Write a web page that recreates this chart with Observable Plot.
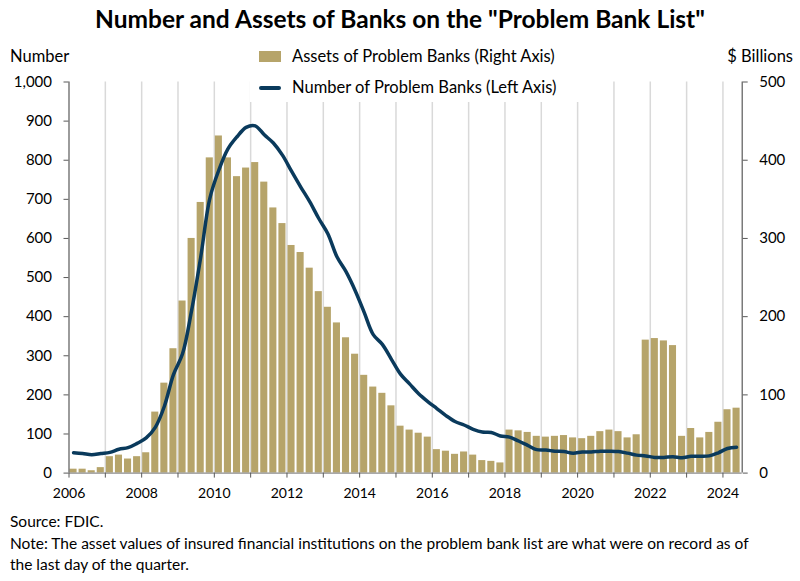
<!DOCTYPE html>
<html>
<head>
<meta charset="utf-8">
<script src="https://cdn.jsdelivr.net/npm/d3@7"></script>
<script src="https://cdn.jsdelivr.net/npm/@observablehq/plot@0.6"></script>
<style>
  html, body { margin: 0; padding: 0; background: #fff; }
  #wrap { position: relative; width: 800px; height: 581px; font-family: Lato, "Open Sans", sans-serif; color: #000; overflow: hidden; }
  #chart { position: absolute; left: 0; top: 0; }
  .abs { position: absolute; white-space: nowrap; line-height: 1; }
  #title { left: 0; width: 800px; top: 7px; text-align: center; font-weight: 700; font-size: 24.5px; }
  #ylab { left: 10px; top: 48px; font-size: 16.5px; }
  #y2lab { right: 7px; top: 48px; font-size: 16.5px; }
  #legend { left: 250px; top: 42px; width: 335px; height: 60px; background: #fff; }
  .lg { position: absolute; left: 42px; font-size: 16.5px; }
  #sw1 { position: absolute; left: 9px; top: 9px; width: 22px; height: 11px; background: #B6A46A; }
  #sw2 { position: absolute; left: 9px; top: 44px; width: 22px; height: 3.5px; background: #0A3A5C; border-radius: 2px; }
  #src { left: 10px; top: 514px; font-size: 15.5px; }
  #note1 { left: 10px; top: 536px; font-size: 15.5px; }
  #note2 { left: 10px; top: 557px; font-size: 15.5px; }
</style>
</head>
<body>
<div id="wrap">
  <div id="chart"></div>
  <div id="title" class="abs">Number and Assets of Banks on the "Problem Bank List"</div>
  <div id="ylab" class="abs">Number</div>
  <div id="y2lab" class="abs">$ Billions</div>
  <div id="legend" class="abs">
    <div id="sw1"></div>
    <div class="lg" style="top:6px">Assets of Problem Banks (Right Axis)</div>
    <div id="sw2"></div>
    <div class="lg" style="top:37px">Number of Problem Banks (Left Axis)</div>
  </div>
  <div id="src" class="abs">Source: FDIC.</div>
  <div id="note1" class="abs">Note: The asset values of insured financial institutions on the problem bank list are what were on record as of</div>
  <div id="note2" class="abs">the last day of the quarter.</div>
</div>
<script>
// Quarters (categories)
const quarters = [
  "2006Q1","2006Q2","2006Q3","2006Q4",
  "2007Q1","2007Q2","2007Q3","2007Q4",
  "2008Q1","2008Q2","2008Q3","2008Q4",
  "2009Q1","2009Q2","2009Q3","2009Q4",
  "2010Q1","2010Q2","2010Q3","2010Q4",
  "2011Q1","2011Q2","2011Q3","2011Q4",
  "2012Q1","2012Q2","2012Q3","2012Q4",
  "2013Q1","2013Q2","2013Q3","2013Q4",
  "2014Q1","2014Q2","2014Q3","2014Q4",
  "2015Q1","2015Q2","2015Q3","2015Q4",
  "2016Q1","2016Q2","2016Q3","2016Q4",
  "2017Q1","2017Q2","2017Q3","2017Q4",
  "2018Q1","2018Q2","2018Q3","2018Q4",
  "2019Q1","2019Q2","2019Q3","2019Q4",
  "2020Q1","2020Q2","2020Q3","2020Q4",
  "2021Q1","2021Q2","2021Q3","2021Q4",
  "2022Q1","2022Q2","2022Q3","2022Q4",
  "2023Q1","2023Q2","2023Q3","2023Q4",
  "2024Q1","2024Q2"
];
// Assets of problem banks, $ billions (right axis)
const assets = [
  5, 5, 3, 7,
  21, 23, 18, 21,
  26, 78, 115, 159,
  220, 300, 346, 403,
  431, 403, 379, 390,
  397, 372, 339, 319,
  291, 282, 262, 232,
  212, 192, 173, 152,
  125, 110, 102, 86,
  60, 55, 51, 46,
  30, 28, 24, 27,
  23, 16, 15, 13,
  55, 54, 52, 47,
  46, 47, 48, 45,
  44, 47, 53, 55,
  53, 45, 49, 170,
  172, 169, 163, 47,
  57, 45, 52, 65,
  81, 83
];
// Number of problem banks (left axis)
const problemBanks = [
  52, 50, 47, 50,
  53, 61, 65, 76,
  90, 117, 171, 252,
  305, 416, 552, 702,
  775, 829, 860, 884,
  888, 865, 844, 813,
  772, 732, 694, 651,
  612, 553, 515, 467,
  411, 354, 329, 291,
  253, 228, 203, 183,
  165, 147, 132, 123,
  112, 105, 104, 95,
  92, 82, 71, 60,
  59, 56, 55, 51,
  54, 54, 56, 56,
  55, 51, 46, 44,
  40, 40, 42, 39,
  43, 43, 44, 52,
  63, 66
];
// Axis ticks
const leftTicks = [0, 100, 200, 300, 400, 500, 600, 700, 800, 900, 1000];
const rightTicks = [0, 100, 200, 300, 400, 500];
const yearTicks = [2006, 2007, 2008, 2009, 2010, 2011, 2012, 2013, 2014, 2015, 2016, 2017, 2018, 2019, 2020, 2021, 2022, 2023, 2024];
const gridYears = [2007, 2008, 2009, 2010, 2011, 2012, 2013, 2014, 2015, 2016, 2017, 2018, 2019, 2020, 2021, 2022, 2023, 2024];

const xStart = 2006, xEnd = 2024.53;
const ratio = 2; // left units per right unit

const rows = quarters.map((q, i) => {
  const t = +q.slice(0, 4) + (+q.slice(5) - 1) * 0.25;
  return { q, t0: t, t1: t + 0.25, tm: t + 0.125, assets: assets[i], banks: problemBanks[i] };
});

const BAR = "#B6A46A", LINE = "#0A3A5C", AXIS = "#595959";

const plot = Plot.plot({
  width: 800,
  height: 581,
  marginTop: 81.5,
  marginBottom: 108.4,
  marginLeft: 68.5,
  marginRight: 58.3,
  style: { fontFamily: "Lato, 'Open Sans', sans-serif", fontSize: "15px", color: "#000", background: "transparent" },
  x: { domain: [xStart, xEnd] },
  y: { domain: [0, 1000] },
  marks: [
    Plot.ruleX(gridYears, { y1: 0, y2: 1000, stroke: "#d9d9d9", strokeWidth: 1.5 }),
    Plot.rectY(rows, { x1: "t0", x2: "t1", y1: 0, y2: d => d.assets * ratio, fill: BAR, insetLeft: 1, insetRight: 1 }),
    Plot.line(rows, { x: "tm", y: "banks", stroke: LINE, strokeWidth: 3.5, curve: "catmull-rom", strokeLinejoin: "round", strokeLinecap: "round" }),
    Plot.ruleY([0], { stroke: "#8c8c8c", strokeWidth: 1.2 }),
    Plot.ruleX([xStart], { y1: 0, y2: 1000, stroke: AXIS, strokeWidth: 1.2 }),
    Plot.ruleX([xEnd], { y1: 0, y2: 1000, stroke: AXIS, strokeWidth: 1.2 }),
    Plot.axisY({ anchor: "left", ticks: leftTicks, tickFormat: d3.format(","), tickSize: 5, tickPadding: 12, label: null, stroke: AXIS, fontSize: 15 }),
    Plot.axisY({ anchor: "right", ticks: rightTicks.map(v => v * ratio), tickFormat: d => d / ratio, tickSize: 5, tickPadding: 12, label: null, stroke: AXIS, fontSize: 15, textAnchor: "start" }),
    Plot.axisX({ ticks: yearTicks, tickFormat: d => (d % 2 === 0 ? String(d) : ""), tickSize: 5, tickPadding: 10, label: null, stroke: AXIS, fontSize: 14 })
  ]
});
document.getElementById("chart").appendChild(plot);
</script>
</body>
</html>
